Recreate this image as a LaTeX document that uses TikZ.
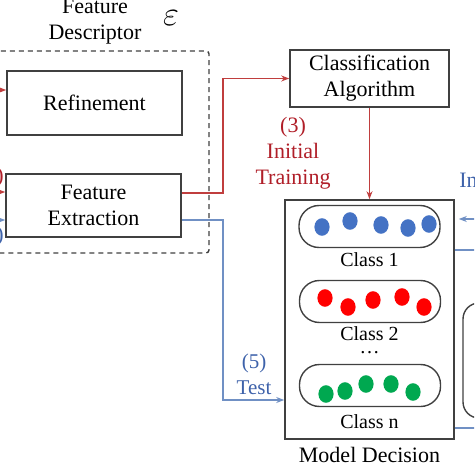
\documentclass[tikz,border=0pt]{standalone}
\usepackage{fontspec}
\setmainfont{Liberation Serif}
\usetikzlibrary{arrows.meta, positioning, calc}

\definecolor{boxgray}{RGB}{64,64,64}
\definecolor{trainred}{RGB}{192,62,62}
\definecolor{trainredtext}{RGB}{176,30,40}
\definecolor{testblue}{RGB}{112,144,196}
\definecolor{testbluetext}{RGB}{62,98,170}
\definecolor{dotblue}{RGB}{68,114,196}
\definecolor{dotred}{RGB}{255,0,0}
\definecolor{dotgreen}{RGB}{0,168,80}

\begin{document}
\begin{tikzpicture}[
        x=0.5pt, y=-0.5pt,
        font=\fontsize{11}{13}\selectfont,
        block node/.style={draw=boxgray, line width=0.8pt, align=center, minimum width=87.5pt, minimum height=32pt, inner sep=1pt},
        class node/.style={draw=boxgray, line width=0.7pt, rounded corners=10pt, minimum width=70.5pt, minimum height=21pt},
        class label/.style={font=\fontsize{10}{12}\selectfont, inner sep=0pt},
        desc box/.style={draw=boxgray, line width=0.7pt, dash pattern=on 2.5pt off 2pt, rounded corners=1.5pt},
        train arrow/.style={-{Stealth[length=4pt, width=3pt]}, draw=trainred, line width=0.6pt},
        test arrow/.style={-{Stealth[length=4pt, width=3pt]}, draw=testblue, line width=0.6pt},
        test line/.style={draw=testblue, line width=0.6pt}
    ]

    \clip (0,0) rectangle (474,474);

    % Feature descriptor group
    \draw[desc box] (-10,51) rectangle (209,253);
    \node[align=center] (desctitle) at (95,22) {Feature\\Descriptor};
    \node (epsilon) at (171,18) {\fontsize{17}{17}\selectfont$\varepsilon$};
    \node[block node] (refine) at (94.5,103) {Refinement};
    \node[block node, minimum height=31.5pt] (extract) at (93.5,205.5) {Feature\\Extraction};

    % Classifier and model
    \node[block node, minimum width=79.5pt, minimum height=28.5pt] (classalg) at (369.5,78.5) {Classification\\Algorithm};
    \node[block node, minimum width=84.5pt, minimum height=119.5pt] (decision) at (369.5,319.5) {};
    \node (decisionlabel) at (369.5,455) {Model Decision};

    % Classes inside the model
    \node[class node] (class1) at (369.5,226.5) {};
    \node[class label] (class1label) at (369.5,260) {Class 1};
    \node[class node] (class2) at (370,301.5) {};
    \node[class label] (class2label) at (369.5,334) {Class 2};
    \node[class label] (classdots) at (369.5,353) {\dots};
    \node[class node] (classn) at (370,385.5) {};
    \node[class label] (classnlabel) at (369.5,422) {Class n};

    % Samples of class 1
    \fill[dotblue] (322,227) ellipse [x radius=3.8pt, y radius=4.4pt];
    \fill[dotblue] (350,221) ellipse [x radius=3.8pt, y radius=4.4pt];
    \fill[dotblue] (381,225) ellipse [x radius=3.8pt, y radius=4.4pt];
    \fill[dotblue] (408,228) ellipse [x radius=3.8pt, y radius=4.4pt];
    \fill[dotblue] (429,224) ellipse [x radius=3.8pt, y radius=4.4pt];

    % Samples of class 2
    \fill[dotred] (325,298) ellipse [x radius=3.8pt, y radius=4.4pt];
    \fill[dotred] (348,307) ellipse [x radius=3.8pt, y radius=4.4pt];
    \fill[dotred] (373,300) ellipse [x radius=3.8pt, y radius=4.4pt];
    \fill[dotred] (402,297) ellipse [x radius=3.8pt, y radius=4.4pt];
    \fill[dotred] (424,307) ellipse [x radius=3.8pt, y radius=4.4pt];

    % Samples of class n
    \fill[dotgreen] (326,394) ellipse [x radius=3.8pt, y radius=4.4pt];
    \fill[dotgreen] (345,391) ellipse [x radius=3.8pt, y radius=4.4pt];
    \fill[dotgreen] (366,384) ellipse [x radius=3.8pt, y radius=4.4pt];
    \fill[dotgreen] (391,384) ellipse [x radius=3.8pt, y radius=4.4pt];
    \fill[dotgreen] (413,392) ellipse [x radius=3.8pt, y radius=4.4pt];

    % Inputs coming from the left
    \node[text=trainredtext, anchor=east, inner sep=0pt] (leftred) at (4,177) {)};
    \node[text=testbluetext, anchor=east, inner sep=0pt] (leftblue) at (4,236) {)};
    \coordinate (redin1) at (-10,90);
    \coordinate (redin2) at (-10,192);
    \coordinate (bluein) at (-10,220);
    \draw[train arrow] (redin1) -- (refine.west |- redin1);
    \draw[train arrow] (redin2) -- (extract.west |- redin2);
    \draw[test arrow] (bluein) -- (extract.west |- bluein);

    % (3) Initial training
    \coordinate (trainturn) at (223,193);
    \draw[train arrow] (extract.east |- trainturn) -- (trainturn) |- (classalg.west);
    \draw[train arrow] (classalg.south) -- (decision.north);
    \node[text=trainredtext, align=center] (trainlabel) at (293,153) {(3)\\Initial\\Training};

    % (5) Test
    \coordinate (testturn) at (223,220);
    \coordinate (testdown) at (223,400);
    \draw[test arrow] (extract.east |- testturn) -- (testturn) -- (testdown) -- (decision.west |- testdown);
    \node[text=testbluetext, align=center, font=\fontsize{10.5}{13}\selectfont] (testlabel) at (254,374) {(5)\\Test};

    % Right side, partly out of view
    \node[text=testbluetext, anchor=west, inner sep=0pt] (rightlabel) at (459,180) {In};
    \coordinate (rightin) at (480,219);
    \coordinate (rightout1) at (480,250);
    \coordinate (rightout2) at (480,428);
    \draw[test arrow] (rightin) -- ($(decision.east |- rightin)+(4,0)$);
    \draw[test line] (decision.east |- rightout1) -- (rightout1);
    \draw[test line] (decision.east |- rightout2) -- (rightout2);
    \draw[draw=boxgray, line width=0.7pt, rounded corners=8pt] (463,303) rectangle (500,418);

\end{tikzpicture}
\end{document}
